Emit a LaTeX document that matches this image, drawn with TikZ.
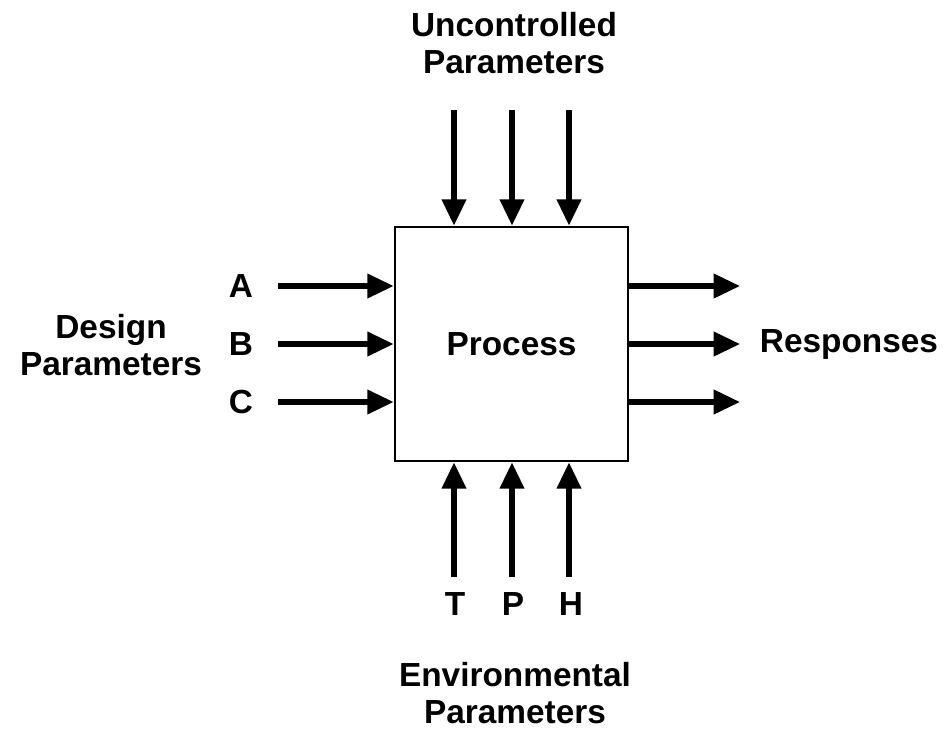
\documentclass[tikz,border=0pt]{standalone}
\usepackage{fontspec}
\setmainfont{Liberation Sans}
\usetikzlibrary{arrows.meta}

\begin{document}
\begin{tikzpicture}[x=0.02cm,y=-0.02cm,every node/.style={font=\bfseries\fontsize{19}{21}\selectfont,align=center},
  flow/.style={-{Triangle[length=15pt,width=13.5pt]},line width=2.9pt}]
  \useasboundingbox (0,0) rectangle (947,728);
  \node[draw,line width=1.6pt,minimum width=4.66cm,minimum height=4.68cm](proc) at(511.5,344){Process};
  % labels
  \node(unc) at(514,43){Uncontrolled\\Parameters};
  \node(env) at(515,693){Environmental\\Parameters};
  \node(des) at(111,345){Design\\Parameters};
  \node(resp) at(849,344){Responses};
  \node(a) at(241,286){A};
  \node(b) at(241,344){B};
  \node(c) at(241,402){C};
  \node(t) at(455,604){T};
  \node(p) at(513,604){P};
  \node(h) at(571,604){H};
  % free ends
  \coordinate(u1) at(454,110); \coordinate(u2) at(512,110); \coordinate(u3) at(569,110);
  \coordinate(e1) at(454,577); \coordinate(e2) at(512,577); \coordinate(e3) at(569,577);
  \coordinate(d1) at(278,286); \coordinate(d2) at(278,344); \coordinate(d3) at(278,402);
  \coordinate(r1) at(740,286); \coordinate(r2) at(740,344); \coordinate(r3) at(740,402);
  % arrows
  \draw[flow](u1)--(u1 |- proc.north);
  \draw[flow](u2)--(u2 |- proc.north);
  \draw[flow](u3)--(u3 |- proc.north);
  \draw[flow](e1)--(e1 |- proc.south);
  \draw[flow](e2)--(e2 |- proc.south);
  \draw[flow](e3)--(e3 |- proc.south);
  \draw[flow](d1)--(d1 -| proc.west);
  \draw[flow](d2)--(d2 -| proc.west);
  \draw[flow](d3)--(d3 -| proc.west);
  \draw[flow](r1 -| proc.east)--(r1);
  \draw[flow](r2 -| proc.east)--(r2);
  \draw[flow](r3 -| proc.east)--(r3);
\end{tikzpicture}
\end{document}
